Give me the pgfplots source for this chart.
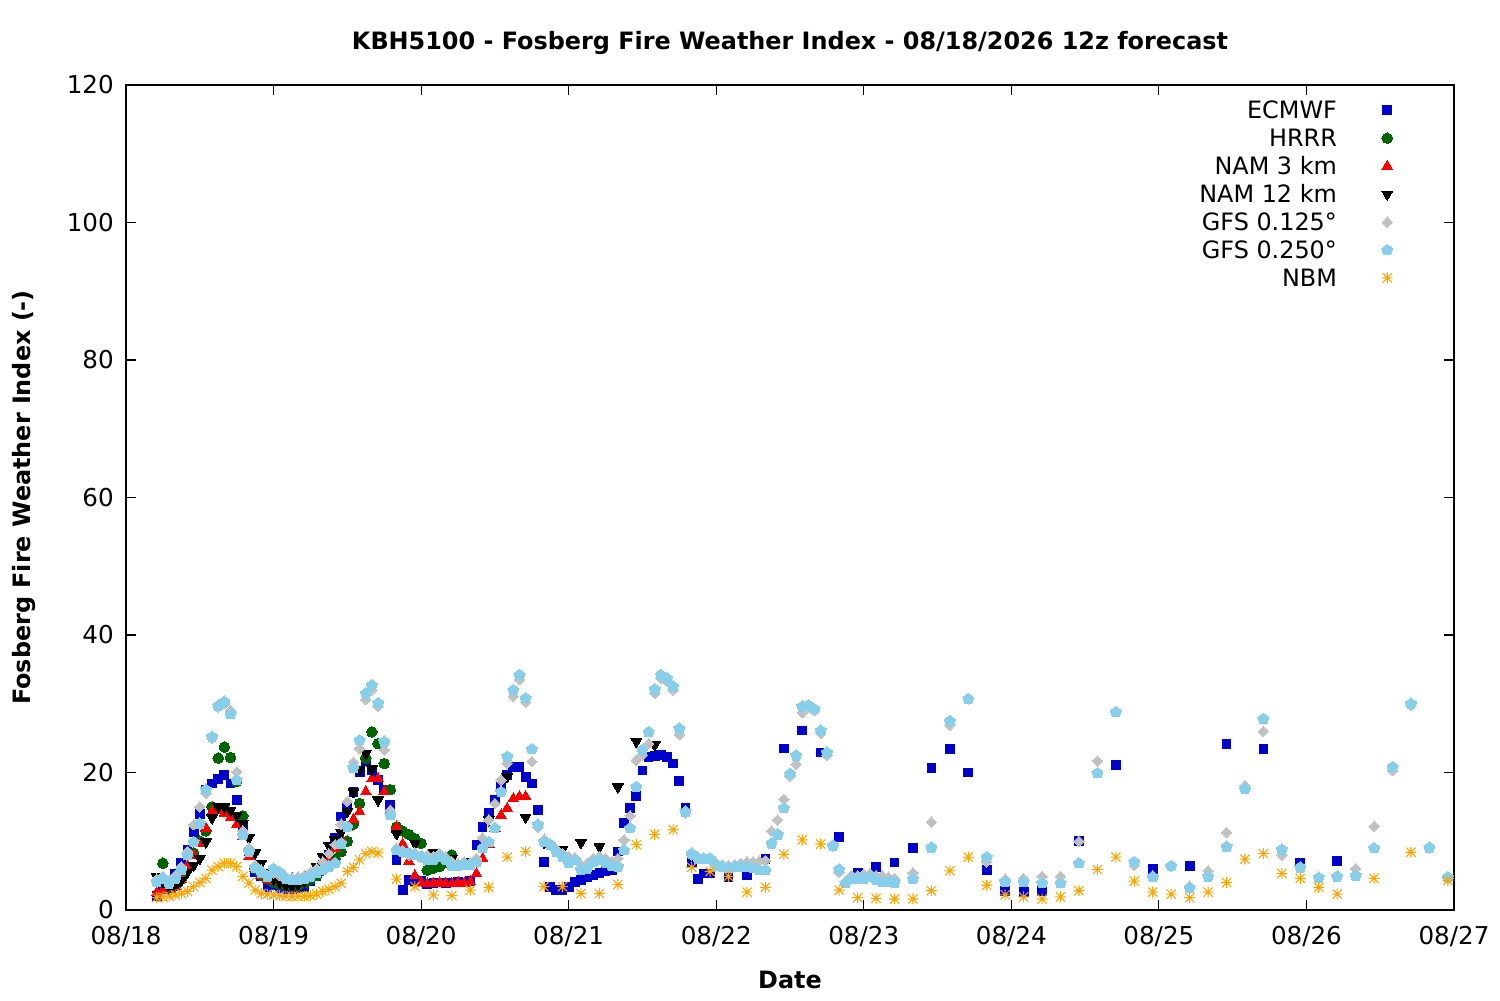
\documentclass[border=0pt]{standalone}
\usepackage{fontspec}
\setmainfont{DejaVu Sans}
\usepackage{pgfplots}
\pgfplotsset{compat=1.18}
\usetikzlibrary{plotmarks}
\definecolor{cEC}{RGB}{0,0,205}
\definecolor{cHR}{RGB}{0,100,0}
\definecolor{cN3}{RGB}{255,0,0}
\definecolor{cN12}{RGB}{0,0,0}
\definecolor{cG1}{RGB}{192,192,192}
\definecolor{cG2}{RGB}{135,206,235}
\definecolor{cNB}{RGB}{255,165,0}
\pgfdeclareplotmark{gpast}{%
 \pgfpathmoveto{\pgfqpoint{-\pgfplotmarksize}{0pt}}\pgfpathlineto{\pgfqpoint{\pgfplotmarksize}{0pt}}%
 \pgfpathmoveto{\pgfqpoint{0pt}{-\pgfplotmarksize}}\pgfpathlineto{\pgfqpoint{0pt}{\pgfplotmarksize}}%
 \pgfpathmoveto{\pgfqpoint{-.85\pgfplotmarksize}{-.85\pgfplotmarksize}}\pgfpathlineto{\pgfqpoint{.85\pgfplotmarksize}{.85\pgfplotmarksize}}%
 \pgfpathmoveto{\pgfqpoint{-.85\pgfplotmarksize}{.85\pgfplotmarksize}}\pgfpathlineto{\pgfqpoint{.85\pgfplotmarksize}{-.85\pgfplotmarksize}}%
 \pgfusepathqstroke}
\begin{document}
\begin{tikzpicture}
\path[use as bounding box] (-2.52cm,-1.8cm) rectangle (27.48cm,18.2cm);
\begin{axis}[
 scale only axis, width=26.56cm, height=16.5cm,
 xmin=0, xmax=216, ymin=0, ymax=120,
 xtick={0,24,...,216},
 xticklabels={08/18,08/19,08/20,08/21,08/22,08/23,08/24,08/25,08/26,08/27},
 ytick={0,20,...,120},
 /pgf/number format/assume math mode=true,
 tick align=inside, major tick length=0.2cm,
 axis line style={line width=0.6pt},
 every tick/.style={black, line width=0.6pt},
 ticklabel style={font=\fontsize{14}{16}\selectfont},
 xticklabel style={yshift=-0.2cm},
 yticklabel style={xshift=-0.12cm},
 title={KBH5100 - Fosberg Fire Weather Index - 08/18/2026 12z forecast},
 every axis title/.style={at={(axis description cs:0.5,1.0509)}, anchor=center, font=\fontsize{13.6}{16}\selectfont\bfseries},
 xlabel={Date},
 xlabel style={at={(axis description cs:0.5,-0.0848)}, anchor=center, font=\fontsize{13.6}{16}\selectfont\bfseries},
 ylabel={Fosberg Fire Weather Index (-)},
 ylabel style={at={(axis description cs:-0.0765,0.5)}, anchor=center, font=\fontsize{13.6}{16}\selectfont\bfseries},
 legend cell align=right, legend plot pos=right,
 legend style={draw=none, fill=none, at={(axis description cs:0.9578,0.9867)}, anchor=north east,
   font=\fontsize{13.6}{16}\selectfont, inner sep=0pt, row sep=0pt, column sep=0pt,
   nodes={inner sep=0pt, text height=12.6pt, text depth=3.3pt}},
 legend image code/.code={\path (0cm,0cm) (1.2cm,0cm); \draw[#1] plot coordinates {(1.0cm,0cm)};},
 only marks,
]
\addplot[mark=square*, mark size=2.5pt, color=cEC, mark options={line width=0pt}] coordinates {
(5,2.0)(6,3.0)(7,3.8)(8,5.2)(9,6.8)(10,8.7)(11,11.4)(12,14.0)(13,17.5)(14,18.4)(15,19.0)(16,19.6)(17,18.4)(18,16.0)(19,12.4)(20,8.5)(21,5.5)(22,4.9)(23,3.4)(24,3.6)(25,3.2)(26,3.0)(27,3.0)(28,3.2)(29,3.4)(30,4.2)(31,5.0)(32,6.5)(33,8.0)(34,10.5)(35,13.6)(36,15.0)(37,17.2)(38,20.1)(39,21.6)(40,20.4)(41,18.9)(42,17.5)(43,15.3)(44,7.3)(45,2.9)(46,4.4)(47,4.1)(48,4.2)(49,3.8)(50,3.9)(51,4.0)(52,3.9)(53,4.0)(54,4.1)(55,4.0)(56,4.2)(57,9.5)(58,12.1)(59,14.1)(60,16.0)(61,17.9)(62,19.6)(63,20.8)(64,20.8)(65,19.3)(66,18.4)(67,14.6)(68,7.0)(69,3.4)(70,2.9)(71,2.9)(72,3.4)(73,4.1)(74,4.4)(75,4.8)(76,5.1)(77,5.4)(78,5.6)(79,5.8)(80,8.5)(81,12.6)(82,14.8)(83,16.6)(84,20.3)(85,22.2)(86,22.4)(87,22.5)(88,22.3)(89,21.3)(90,18.8)(91,14.8)(92,6.8)(93,4.5)(94,5.3)(95,5.3)(98,4.8)(101,5.1)(104,7.4)(107,23.5)(110,26.1)(113,22.9)(116,10.6)(119,5.4)(122,6.2)(125,6.9)(128,9.0)(131,20.6)(134,23.4)(137,20.0)(140,5.8)(143,2.8)(146,2.6)(149,2.8)(155,10.0)(161,21.1)(167,6.0)(173,6.4)(179,24.2)(185,23.4)(191,6.8)(197,7.1)
};
\addlegendentry{ECMWF}
\addplot[mark=*, mark size=3.0pt, color=cHR, mark options={line width=0pt}] coordinates {
(6,6.8)(7,3.8)(8,3.5)(9,4.5)(10,6.0)(11,8.3)(12,10.0)(13,11.5)(14,15.0)(15,22.1)(16,23.7)(17,22.2)(18,18.7)(19,13.7)(20,8.7)(21,6.0)(22,5.0)(23,4.5)(24,4.0)(25,3.8)(26,3.6)(27,3.5)(28,3.6)(29,4.0)(30,4.5)(31,5.0)(32,5.8)(33,6.5)(34,7.5)(35,8.5)(36,10.0)(37,12.5)(38,15.5)(39,22.1)(40,25.9)(41,24.2)(42,21.3)(43,17.5)(44,12.1)(45,11.5)(46,11.0)(47,10.4)(48,9.7)(49,5.8)(50,6.1)(51,6.3)(52,7.0)(53,8.0)
};
\addlegendentry{HRRR}
\addplot[mark=triangle*, mark size=3.5pt, color=cN3, mark options={line width=0pt}] coordinates {
(5,2.5)(6,2.8)(7,3.0)(8,3.5)(9,4.5)(10,6.5)(11,8.0)(12,9.7)(13,11.9)(14,14.3)(15,14.5)(16,14.1)(17,13.4)(18,12.4)(19,10.7)(20,7.8)(21,6.0)(22,5.0)(23,4.5)(24,4.3)(25,4.2)(26,4.3)(27,4.5)(28,4.6)(29,4.8)(30,5.0)(31,5.5)(32,6.5)(33,7.5)(34,9.0)(35,10.5)(36,12.0)(37,13.2)(38,14.3)(39,17.2)(40,19.1)(41,19.1)(42,17.2)(43,14.5)(44,12.1)(45,9.6)(46,7.1)(47,5.0)(48,4.0)(49,3.8)(50,3.9)(51,4.0)(52,3.9)(53,3.8)(54,4.0)(55,3.9)(56,4.1)(57,5.3)(58,7.5)(59,9.5)(60,11.9)(61,13.8)(62,14.8)(63,16.2)(64,16.5)(65,16.5)
};
\addlegendentry{NAM 3 km}
\addplot[mark=triangle*, mark size=3.5pt, color=cN12, mark options={line width=0pt, rotate=180}] coordinates {
(5,4.8)(6,4.2)(7,3.2)(8,3.5)(9,4.3)(10,5.5)(11,6.5)(12,7.5)(13,9.9)(14,13.4)(15,15.0)(16,15.0)(17,14.5)(18,13.8)(19,12.6)(20,10.5)(21,8.3)(22,6.8)(23,5.5)(24,4.5)(25,4.0)(26,3.6)(27,3.5)(28,3.7)(29,4.2)(30,5.2)(31,6.3)(32,7.8)(33,9.4)(34,10.2)(35,11.3)(36,14.3)(37,17.2)(38,20.4)(39,22.8)(40,20.5)(41,16.0)(44,11.1)(47,9.7)(50,8.3)(53,7.5)(56,7.0)(59,13.1)(62,19.4)(65,13.5)(68,9.8)(71,8.8)(74,9.8)(77,9.2)(80,17.9)(83,24.5)(86,24.0)
};
\addlegendentry{NAM 12 km}
\addplot[mark=square*, mark size=2.1pt, color=cG1, mark options={line width=0pt, rotate=45}] coordinates {
(5,4.5)(6,4.9)(7,4.2)(8,5.0)(9,6.3)(10,8.5)(11,12.4)(12,15.0)(13,17.0)(14,25.0)(15,29.5)(16,30.0)(17,29.0)(18,20.1)(19,11.5)(20,9.0)(21,6.5)(22,5.8)(23,5.0)(24,5.4)(25,5.0)(26,4.8)(27,4.6)(28,4.8)(29,5.0)(30,5.5)(31,6.0)(32,7.0)(33,8.2)(34,9.5)(35,12.5)(36,15.8)(37,21.5)(38,23.5)(39,30.6)(40,32.0)(41,29.6)(42,23.3)(43,14.5)(44,9.0)(45,8.4)(46,8.0)(47,8.3)(48,7.6)(49,8.0)(50,7.8)(51,8.2)(52,7.7)(53,7.0)(54,6.8)(55,7.0)(56,6.9)(57,7.5)(58,10.5)(59,13.1)(60,15.5)(61,18.9)(62,21.3)(63,31.1)(64,33.5)(65,30.2)(66,21.6)(67,12.0)(68,10.3)(69,9.5)(70,8.8)(71,8.2)(72,7.8)(73,7.6)(74,6.6)(75,6.8)(76,7.5)(77,7.8)(78,7.5)(79,7.0)(80,7.5)(81,10.2)(82,13.7)(83,21.8)(84,22.5)(85,24.2)(86,31.5)(87,33.7)(88,33.2)(89,32.0)(90,25.5)(91,14.1)(92,8.0)(93,7.8)(94,7.6)(95,7.3)(96,6.8)(97,6.6)(98,6.5)(99,6.6)(100,6.8)(101,7.0)(102,7.0)(103,7.1)(104,7.2)(105,11.5)(106,13.1)(107,16.1)(108,19.5)(109,21.2)(110,28.7)(111,29.5)(112,29.0)(113,25.7)(114,22.5)(115,9.3)(116,5.5)(117,4.1)(118,5.0)(119,5.0)(120,5.2)(121,5.3)(122,5.0)(123,5.0)(124,4.8)(125,4.6)(128,5.4)(131,12.8)(134,26.9)(137,30.7)(140,7.0)(143,4.5)(146,4.6)(149,4.9)(152,4.9)(155,10.0)(158,21.7)(161,28.9)(164,6.5)(167,5.0)(170,6.4)(173,3.5)(176,5.7)(179,11.3)(182,18.1)(185,26.0)(188,8.0)(191,6.2)(194,4.7)(197,4.9)(200,6.0)(203,12.2)(206,20.3)(209,29.8)(212,9.0)(215,4.6)
};
\addlegendentry{GFS 0.125°}
\addplot[mark=pentagon*, mark size=3.3pt, color=cG2, mark options={line width=0pt}] coordinates {
(5,4.1)(6,4.6)(7,3.8)(8,4.5)(9,5.8)(10,8.0)(11,9.9)(12,12.6)(13,17.5)(14,25.2)(15,29.7)(16,30.3)(17,28.5)(18,18.9)(19,10.9)(20,8.5)(21,6.1)(22,5.4)(23,4.9)(24,6.0)(25,5.5)(26,4.6)(27,4.4)(28,4.4)(29,4.6)(30,4.9)(31,5.4)(32,5.8)(33,6.3)(34,6.8)(35,9.7)(36,12.1)(37,20.7)(38,24.7)(39,31.5)(40,32.7)(41,30.1)(42,24.5)(43,13.8)(44,8.7)(45,8.5)(46,8.3)(47,8.0)(48,7.8)(49,7.3)(50,7.3)(51,7.8)(52,7.3)(53,6.4)(54,6.4)(55,6.6)(56,6.6)(57,7.0)(58,9.0)(59,9.9)(60,11.9)(61,17.2)(62,22.3)(63,32.0)(64,34.2)(65,30.8)(66,23.4)(67,12.4)(68,9.9)(69,9.5)(70,8.5)(71,7.8)(72,6.9)(73,7.3)(74,5.9)(75,6.0)(76,7.0)(77,7.3)(78,6.9)(79,6.4)(80,6.3)(81,8.7)(82,11.9)(83,17.9)(84,23.3)(85,25.9)(86,32.1)(87,34.2)(88,33.7)(89,32.5)(90,26.4)(91,14.3)(92,8.2)(93,7.5)(94,7.5)(95,7.5)(96,6.5)(97,6.3)(98,6.1)(99,6.3)(100,6.3)(101,6.3)(102,6.1)(103,5.8)(104,5.8)(105,9.7)(106,11.0)(107,14.8)(108,19.8)(109,22.5)(110,29.6)(111,29.8)(112,29.2)(113,26.1)(114,22.9)(115,9.4)(116,5.9)(117,3.9)(118,4.6)(119,4.6)(120,4.6)(121,4.8)(122,4.4)(123,4.1)(124,4.1)(125,4.0)(128,4.5)(131,9.1)(134,27.5)(137,30.7)(140,7.7)(143,4.1)(146,4.1)(149,3.9)(152,3.9)(155,6.8)(158,19.9)(161,28.8)(164,7.0)(167,4.8)(170,6.4)(173,3.2)(176,4.9)(179,9.2)(182,17.6)(185,27.8)(188,8.8)(191,6.2)(194,4.7)(197,4.9)(200,5.0)(203,9.0)(206,20.8)(209,30.0)(212,9.1)(215,4.8)
};
\addlegendentry{GFS 0.250°}
\addplot[mark=gpast, mark size=3.1pt, color=cNB, mark options={line width=0.6pt}] coordinates {
(5,1.8)(6,1.9)(7,2.0)(8,2.2)(9,2.4)(10,2.7)(11,3.4)(12,4.0)(13,4.6)(14,5.8)(15,6.3)(16,6.8)(17,6.8)(18,6.3)(19,4.9)(20,3.9)(21,2.9)(22,2.4)(23,2.3)(24,2.2)(25,2.1)(26,2.0)(27,2.0)(28,2.0)(29,2.0)(30,2.1)(31,2.3)(32,2.7)(33,3.0)(34,3.4)(35,3.9)(36,5.6)(37,6.2)(38,7.3)(39,8.2)(40,8.5)(41,8.3)(44,4.5)(47,3.4)(50,2.2)(53,2.1)(56,2.9)(59,3.3)(62,7.7)(65,8.5)(68,3.4)(71,3.4)(74,2.4)(77,2.4)(80,3.7)(83,9.5)(86,11.0)(89,11.7)(92,6.2)(95,5.6)(98,4.9)(101,2.6)(104,3.3)(107,8.1)(110,10.2)(113,9.6)(116,2.9)(119,1.8)(122,1.7)(125,1.6)(128,1.6)(131,2.8)(134,5.7)(137,7.7)(140,3.6)(143,2.2)(146,1.9)(149,1.6)(152,1.9)(155,2.8)(158,5.9)(161,7.7)(164,4.2)(167,2.6)(170,2.3)(173,1.8)(176,2.6)(179,4.0)(182,7.4)(185,8.2)(188,5.3)(191,4.6)(194,3.3)(197,2.3)(203,4.6)(209,8.4)(215,4.3)
};
\addlegendentry{NBM}
\end{axis}
\end{tikzpicture}
\end{document}
